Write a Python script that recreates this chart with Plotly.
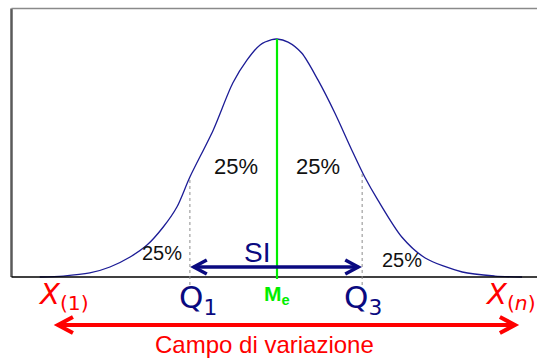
import numpy as np
import plotly.graph_objects as go

# Bell curve: standardized position and relative density (peak = 1)
curve_z = [-3.65, -3.29, -2.88, -2.57, -2.26, -2.00, -1.75, -1.54, -1.34, -0.98,
           -0.68, -0.46, -0.26, -0.08, 0.0, 0.17, 0.38, 0.63, 0.89, 1.15,
           1.35, 1.55, 1.92, 2.28, 2.85, 3.35, 3.77]
curve_h = [0.0, 0.004, 0.017, 0.042, 0.084, 0.134, 0.210, 0.294, 0.420, 0.618,
           0.815, 0.912, 0.975, 0.997, 1.0, 0.987, 0.941, 0.828, 0.689, 0.534,
           0.420, 0.324, 0.168, 0.080, 0.021, 0.004, 0.0]

# Position indices
q1, median, q3 = -1.34, 0.0, 1.31
x_min, x_max = -3.37, 3.66

# Share of observations in each quarter and where the labels sit
quarter_labels = ["25%", "25%", "25%", "25%"]
quarter_x = [-0.63, 0.63, -1.77, 1.92]
quarter_y = [0.466, 0.466, 0.10, 0.071]
quarter_size = [22, 22, 20, 20]

NAVY = "#0a0a80"
RED = "#ff0000"
GREEN = "#00ee00"

# Screen scale (pixels per data unit) used to size arrowheads
PX_X, PX_Y = 65.0, 238.0
X_RANGE = [-277 / PX_X, 260 / PX_X]
Y_RANGE = [-81 / PX_Y, 277 / PX_Y]

fig = go.Figure()
fig.add_trace(go.Scatter(x=curve_z, y=curve_h, mode="lines",
                         line=dict(color="#1c1c96", width=1.3, shape="spline", smoothing=0.8),
                         hoverinfo="skip", showlegend=False))

shapes = []
frame_left = (11.5 - 277) / PX_X
frame_top = (277 - 8.5) / PX_Y
# frame: left, top and baseline
shapes.append(dict(type="line", x0=frame_left, x1=frame_left, y0=0, y1=frame_top,
                   line=dict(color="#5a5a5a", width=2.5)))
shapes.append(dict(type="line", x0=frame_left, x1=X_RANGE[1], y0=frame_top, y1=frame_top,
                   line=dict(color="#8a8a8a", width=1.5)))
shapes.append(dict(type="line", x0=frame_left, x1=X_RANGE[1], y0=0, y1=0,
                   line=dict(color="#000000", width=1.5)))

# dotted quartile guides
for q in (q1, q3):
    hq = float(np.interp(q, curve_z, curve_h))
    shapes.append(dict(type="line", x0=q, x1=q, y0=-8 / PX_Y, y1=hq,
                       line=dict(color="#8c8c8c", width=1, dash="dot")))

# median line
shapes.append(dict(type="line", x0=median, x1=median, y0=-2 / PX_Y,
                   y1=float(np.interp(median, curve_z, curve_h)),
                   line=dict(color=GREEN, width=2.2)))


def double_arrow(xa, xb, y, color, width, head_len, head_half):
    dx = head_len / PX_X
    dy = head_half / PX_Y
    shapes.append(dict(type="line", x0=xa, x1=xb, y0=y, y1=y,
                       line=dict(color=color, width=width)))
    for tip, sgn in ((xa, 1), (xb, -1)):
        path = f"M {tip + sgn * dx},{y + dy} L {tip},{y} L {tip + sgn * dx},{y - dy}"
        shapes.append(dict(type="path", path=path, line=dict(color=color, width=width)))


# interquartile span (SI)
inset = 0.06
double_arrow(q1 + inset, q3 - inset, 10 / PX_Y, NAVY, 3.5, 13, 7)
# range of the data (campo di variazione)
double_arrow(x_min, x_max, -48 / PX_Y, RED, 4, 15, 8)

ann = []
for t, x, y, s in zip(quarter_labels, quarter_x, quarter_y, quarter_size):
    ann.append(dict(x=x, y=y, text=t, showarrow=False,
                    font=dict(family="Liberation Sans, Arial", size=s, color="#111111")))

ann.append(dict(x=-0.31, y=25 / PX_Y, text="SI", showarrow=False,
                font=dict(family="Liberation Sans, Arial", size=28, color=NAVY)))
ann.append(dict(x=-1.215, y=-22 / PX_Y, text="Q<sub>1</sub>", showarrow=False,
                font=dict(family="DejaVu Sans", size=31, color=NAVY)))
ann.append(dict(x=q3 + 0.01, y=-22 / PX_Y, text="Q<sub>3</sub>", showarrow=False,
                font=dict(family="DejaVu Sans", size=31, color=NAVY)))
ann.append(dict(x=median, y=-18 / PX_Y, text="<b>M<sub>e</sub></b>", showarrow=False,
                font=dict(family="Liberation Sans, Arial", size=21, color=GREEN)))
ann.append(dict(x=(36 - 277) / PX_X, y=-19 / PX_Y, xanchor="left",
                text="<i>X</i><sub>(1)</sub>", showarrow=False,
                font=dict(family="DejaVu Sans", size=29, color=RED)))
ann.append(dict(x=(483 - 277) / PX_X, y=-19 / PX_Y, xanchor="left",
                text="<i>X</i><sub>(<i>n</i>)</sub>", showarrow=False,
                font=dict(family="DejaVu Sans", size=29, color=RED)))
ann.append(dict(x=(x_min + x_max) / 2 - 0.33, y=-67 / PX_Y, text="Campo di variazione",
                showarrow=False, yanchor="middle",
                font=dict(family="Liberation Sans, Arial", size=24, color=RED)))

fig.update_layout(
    width=537, height=358,
    margin=dict(l=0, r=0, t=0, b=0),
    paper_bgcolor="white", plot_bgcolor="white",
    xaxis=dict(range=X_RANGE, visible=False, fixedrange=True),
    yaxis=dict(range=Y_RANGE, visible=False, fixedrange=True),
    shapes=shapes, annotations=ann, showlegend=False,
)

fig.write_html("out.html", config={"displayModeBar": False})
